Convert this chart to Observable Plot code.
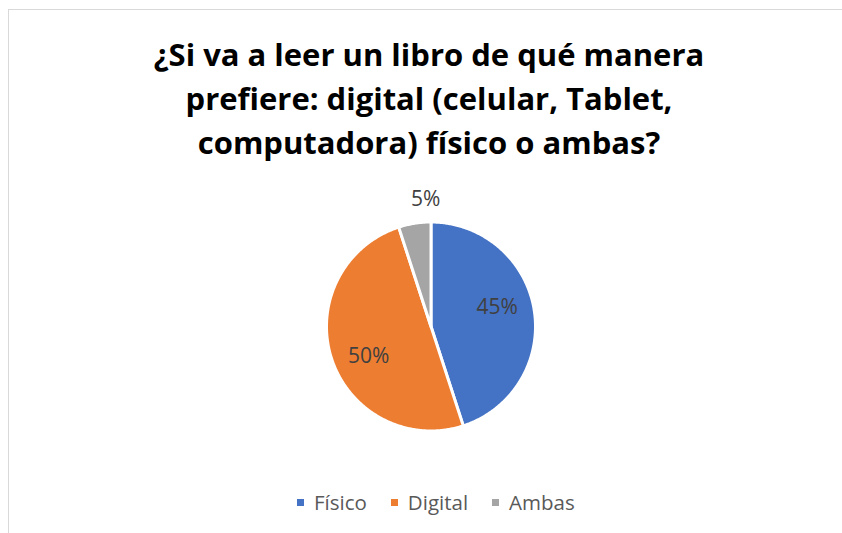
<!DOCTYPE html>
<html>
<head>
<meta charset="utf-8">
<script src="https://cdn.jsdelivr.net/npm/d3@7"></script>
<script src="https://cdn.jsdelivr.net/npm/@observablehq/plot@0.6"></script>
<style>
  html, body { margin: 0; padding: 0; background: #fff; }
  #wrap { position: relative; width: 842px; height: 533px; overflow: hidden; font-family: "Open Sans", "Noto Sans", sans-serif; }
  #frame { position: absolute; left: 8px; top: 9px; width: 900px; height: 600px; border-left: 1.5px solid #d9d9d9; border-top: 1.5px solid #d9d9d9; }
  #title { position: absolute; left: 29px; width: 800px; top: 32px; text-align: center; font-weight: 700; font-size: 31px; line-height: 44px; color: #000; }
  #chart { position: absolute; left: 0; top: 0; }
  #legend { position: absolute; left: 297px; top: 488px; display: flex; align-items: center; font-size: 20.5px; color: #595959; }
  .item { display: flex; align-items: center; margin-right: 24px; }
  .sw { width: 7px; height: 7px; margin-right: 10px; }
</style>
</head>
<body>
<div id="wrap">
  <div id="frame"></div>
  <div id="chart"></div>
  <div id="title"></div>
  <div id="legend"></div>
</div>
<script>
const titleLines = ["¿Si va a leer un libro de qué manera", "prefiere: digital (celular, Tablet,", "computadora) físico o ambas?"];
const categories = ["Físico", "Digital", "Ambas"];
const values = [45, 50, 5];
const colors = ["#4472C4", "#ED7D31", "#A5A5A5"];

const W = 842, H = 533;
const cx = 430.5, cy = 326, R = 104.5;

const data = categories.map((c, i) => ({category: c, value: values[i]}));
const total = d3.sum(values);
const arcs = d3.pie().sort(null).value(d => d.value)(data);

// polygon points per slice
const pts = [];
for (const a of arcs) {
  const key = a.data.category;
  pts.push({key, x: cx, y: cy});
  const n = Math.max(4, Math.ceil((a.endAngle - a.startAngle) / 0.01));
  for (let k = 0; k <= n; k++) {
    const t = a.startAngle + (a.endAngle - a.startAngle) * k / n;
    pts.push({key, x: cx + R * Math.sin(t), y: cy - R * Math.cos(t)});
  }
  pts.push({key, x: cx, y: cy});
}

const labels = arcs.map(a => {
  const share = a.data.value / total;
  const mid = (a.startAngle + a.endAngle) / 2;
  const inside = share >= 0.1;
  const ang = inside ? mid - 0.13 : mid;
  const d = inside ? R * 0.66 : R * 1.23;
  return {
    text: Math.round(share * 100) + "%",
    x: cx + d * Math.sin(ang),
    y: cy - d * Math.cos(ang),
    anchor: inside ? "middle" : "start"
  };
});

const plot = Plot.plot({
  width: W, height: H,
  margin: 0,
  x: {domain: [0, W], range: [0, W], axis: null},
  y: {domain: [0, H], range: [0, H], axis: null},
  color: {domain: categories, range: colors},
  style: {background: "transparent", fontFamily: "'Open Sans', 'Noto Sans', sans-serif"},
  marks: [
    Plot.line(pts, {x: "x", y: "y", z: "key", fill: "key", stroke: "white", strokeWidth: 3, strokeLinejoin: "round", curve: "linear"}),
    Plot.text(labels.filter(d => d.anchor === "middle"), {x: "x", y: "y", text: "text", fontSize: 21, fill: "#404040", textAnchor: "middle"}),
    Plot.text(labels.filter(d => d.anchor === "start"), {x: "x", y: "y", text: "text", fontSize: 21, fill: "#404040", textAnchor: "start"})
  ]
});
document.getElementById("chart").appendChild(plot);

document.getElementById("title").innerHTML = titleLines.join("<br>");

const legend = document.getElementById("legend");
categories.forEach((c, i) => {
  const it = document.createElement("div");
  it.className = "item";
  const sw = document.createElement("div");
  sw.className = "sw";
  sw.style.background = colors[i];
  const tx = document.createElement("span");
  tx.textContent = c;
  it.appendChild(sw); it.appendChild(tx);
  legend.appendChild(it);
});
</script>
</body>
</html>
